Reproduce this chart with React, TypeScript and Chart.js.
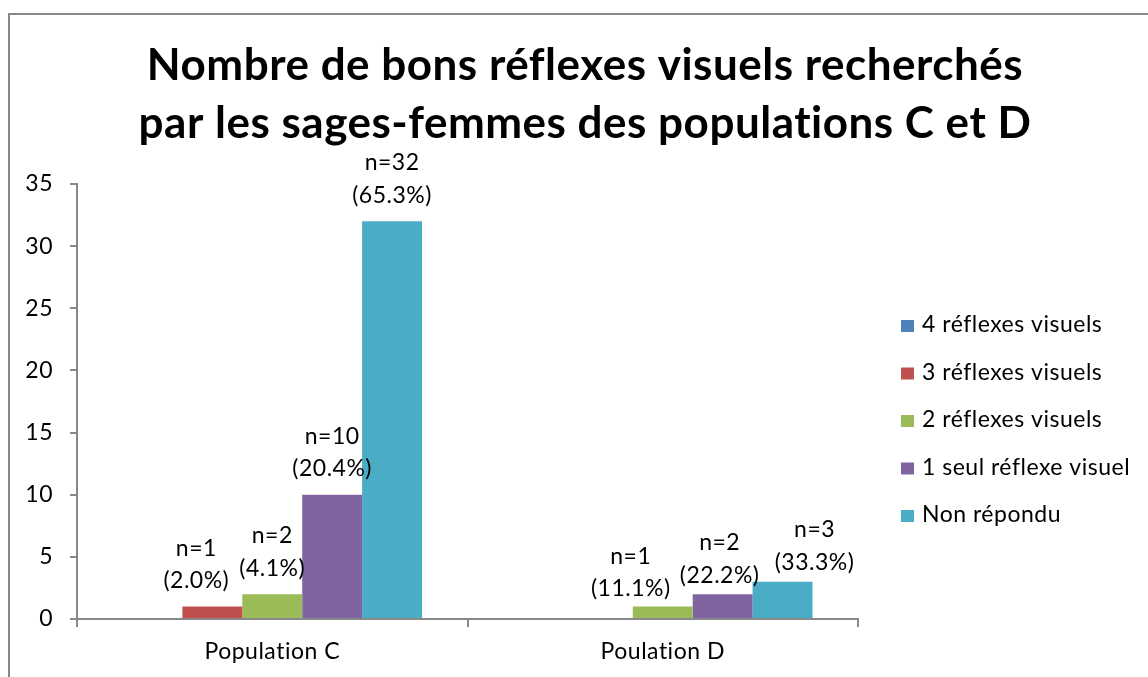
import React, { useEffect, useRef } from "react";
import { Chart, registerables } from "chart.js";

Chart.register(...registerables);

// ---------- data ----------
const categories = ["Population C", "Poulation D"];
const seriesNames = [
  "4 réflexes visuels",
  "3 réflexes visuels",
  "2 réflexes visuels",
  "1 seul réflexe visuel",
  "Non répondu",
];
const fourReflexes = [0, 0];
const threeReflexes = [1, 0];
const twoReflexes = [2, 1];
const oneReflex = [10, 2];
const noAnswer = [32, 3];
const seriesValues = [fourReflexes, threeReflexes, twoReflexes, oneReflex, noAnswer];

const fourPct = [null, null];
const threePct = [2.0, null];
const twoPct = [4.1, 11.1];
const onePct = [20.4, 22.2];
const noAnswerPct = [65.3, 33.3];
const seriesPct = [fourPct, threePct, twoPct, onePct, noAnswerPct];

const yMax = 35;
const yStep = 5;

const titleLines = [
  "Nombre de bons réflexes visuels recherchés",
  "par les sages-femmes des populations C et D",
];

// ---------- styles ----------
const seriesColors = ["#4F81BD", "#C0504D", "#9BBB59", "#8064A2", "#4BACC6"];
const axisColor = "#898989";
const FONT = "Lato";
const SMALL = 23;
const SPACING = "0.5px";
// label nudges (per series, per category) relative to default placement above bar
const labelNudgeX = [[0, 0], [-16, 0], [0, -32], [0, -3], [0, 32]];
const labelNudgeY = [[0, 0], [0, 7], [0, 8], [0, 7], [0, 6.5]];

const spacingPlugin = {
  id: "letterSpacing",
  beforeInit(chart: any) {
    (chart.ctx as any).letterSpacing = SPACING;
  },
  beforeDraw(chart: any) {
    (chart.ctx as any).letterSpacing = SPACING;
  },
};

const titlePlugin = {
  id: "twoLineTitle",
  afterDraw(chart: any) {
    const { ctx } = chart;
    ctx.save();
    ctx.letterSpacing = SPACING;
    ctx.font = `bold 44px ${FONT}`;
    ctx.fillStyle = "#000";
    ctx.textAlign = "center";
    ctx.textBaseline = "alphabetic";
    ctx.fillText(titleLines[0], 575, 65);
    ctx.fillText(titleLines[1], 575, 123);
    ctx.restore();
  },
};

const dataLabelPlugin = {
  id: "dataLabels",
  afterDatasetsDraw(chart: any) {
    const { ctx } = chart;
    ctx.save();
    ctx.letterSpacing = SPACING;
    ctx.font = `${SMALL}px ${FONT}`;
    ctx.fillStyle = "#000";
    ctx.textAlign = "center";
    ctx.textBaseline = "alphabetic";
    chart.data.datasets.forEach((ds: any, si: number) => {
      const meta = chart.getDatasetMeta(si);
      meta.data.forEach((bar: any, ci: number) => {
        const v = ds.data[ci];
        const p = seriesPct[si][ci];
        if (!v || p == null) return;
        const x = bar.x + labelNudgeX[si][ci];
        const y2 = bar.y - 18.5 + labelNudgeY[si][ci];
        ctx.fillText(`n=${v}`, x, y2 - 32.5);
        ctx.fillText(`(${(p as number).toFixed(1)}%)`, x, y2);
      });
    });
    ctx.restore();
  },
};

const sideLegendPlugin = {
  id: "sideLegend",
  afterDraw(chart: any) {
    const { ctx, chartArea } = chart;
    ctx.save();
    ctx.letterSpacing = SPACING;
    ctx.font = `${SMALL}px ${FONT}`;
    ctx.textBaseline = "alphabetic";
    ctx.textAlign = "left";
    chart.data.datasets.forEach((ds: any, i: number) => {
      const base = chartArea.top + 148 + i * 47.5;
      const x = chartArea.right + 43;
      ctx.fillStyle = ds.backgroundColor;
      ctx.fillRect(x, base - 12, 13, 12);
      ctx.fillStyle = "#000";
      ctx.fillText(ds.label, x + 21, base);
    });
    ctx.restore();
  },
};

export default function App() {
  const ref = useRef<HTMLCanvasElement>(null);

  useEffect(() => {
    if (!ref.current) return;
    Chart.defaults.font.family = FONT;
    const chart = new Chart(ref.current, {
      type: "bar",
      data: {
        labels: categories,
        datasets: seriesNames.map((name, i) => ({
          label: name,
          data: seriesValues[i],
          backgroundColor: seriesColors[i],
          borderWidth: 0,
          categoryPercentage: 0.767,
          barPercentage: 1,
        })),
      },
      options: {
        responsive: false,
        animation: false,
        layout: { padding: { left: 0, right: 290, top: 169, bottom: 0 } },
        plugins: {
          legend: { display: false },
          tooltip: { enabled: false },
          title: { display: false },
        },
        scales: {
          x: {
            afterFit: (scale: any) => {
              scale.height = 58;
            },
            grid: {
              display: true,
              drawOnChartArea: false,
              drawTicks: true,
              tickLength: 8,
              color: axisColor,
              lineWidth: 2,
              offset: true,
            },
            border: { display: true, color: axisColor, width: 2 },
            ticks: { color: "#000", font: { size: SMALL, family: FONT }, padding: 11 },
          },
          y: {
            min: 0,
            max: yMax,
            afterFit: (scale: any) => {
              scale.width = 67;
            },
            grid: {
              display: true,
              drawOnChartArea: false,
              drawTicks: true,
              tickLength: 7,
              color: axisColor,
              lineWidth: 2,
            },
            border: { display: true, color: axisColor, width: 2 },
            ticks: {
              stepSize: yStep,
              color: "#000",
              font: { size: SMALL, family: FONT },
              padding: 17,
            },
          },
        },
      },
      plugins: [spacingPlugin, titlePlugin, dataLabelPlugin, sideLegendPlugin],
    });
    return () => chart.destroy();
  }, []);

  return (
    <div
      style={{
        position: "absolute",
        left: 8,
        top: 13,
        width: 1140,
        height: 664,
        boxSizing: "border-box",
        borderLeft: "2px solid #888",
        borderTop: "2px solid #888",
        background: "#fff",
      }}
    >
      <canvas ref={ref} width={1138} height={662} style={{ display: "block" }} />
    </div>
  );
}
